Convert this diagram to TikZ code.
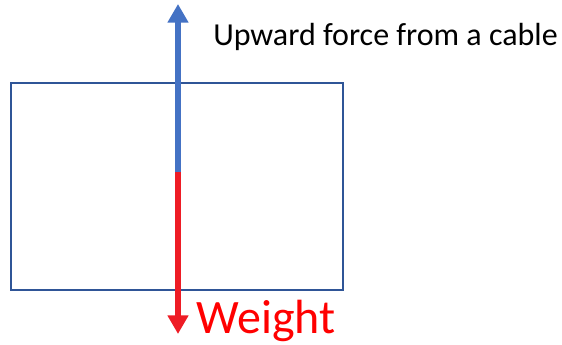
\documentclass[tikz,border=0pt]{standalone}
\usepackage{fontspec}
\setmainfont{Carlito}
\usetikzlibrary{arrows.meta}
\definecolor{boxblue}{HTML}{2F5597}
\definecolor{upblue}{HTML}{4472C4}
\definecolor{wred}{HTML}{EE1C25}
\tikzset{
  force/.style={line width=4.5pt, -{Triangle[width=15pt,length=14pt]}},
}
\begin{document}
\begin{tikzpicture}[x=0.75pt,y=-0.75pt]
\useasboundingbox (0,0) rectangle (562,344);
\draw[boxblue, line width=1.5pt] (11,83) rectangle (343,290);
\coordinate (mid) at (178,172);
\coordinate (top) at (178,4);
\coordinate (bot) at (178,334);
\draw[force, upblue] (mid) -- (top);
\draw[force, wred] (mid) -- (bot);
\node[anchor=base west, inner sep=0pt, font=\fontsize{24pt}{28pt}\selectfont] (up) at (213,45) {Upward force from a cable};
\node[anchor=base west, inner sep=0pt, text=red, font=\fontsize{36pt}{40pt}\selectfont] (w) at (196,333) {Weight};
\end{tikzpicture}
\end{document}
